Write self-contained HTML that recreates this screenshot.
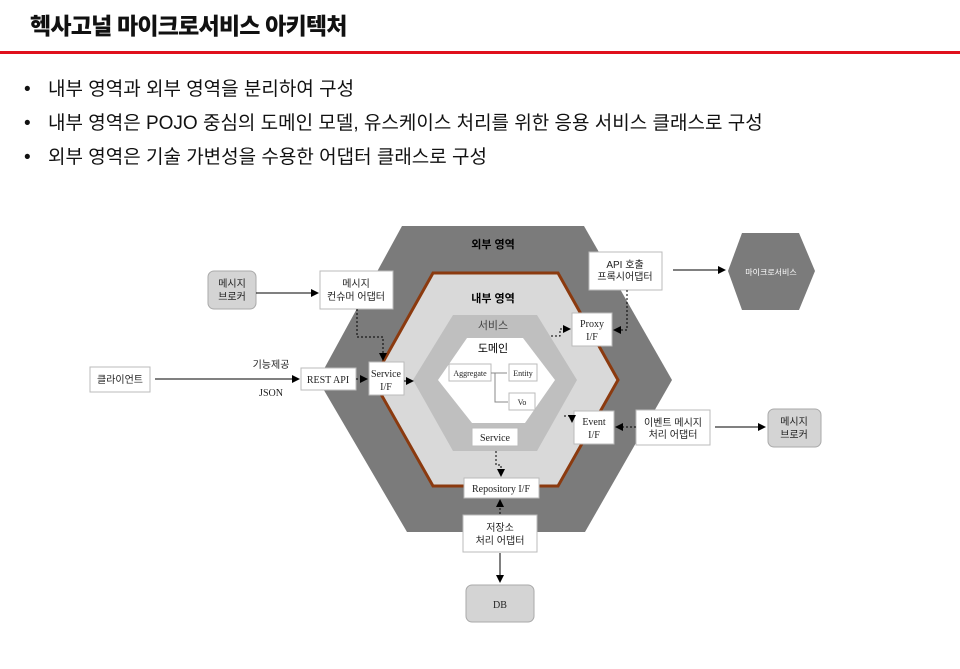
<!DOCTYPE html>
<html><head><meta charset="utf-8"><style>
body{margin:0;width:960px;height:669px;background:#fff;overflow:hidden;position:relative;font-family:"Liberation Sans","Noto Sans CJK KR",sans-serif}
.t{position:absolute;left:30px;top:7px;font-size:23px;font-weight:900;color:#111;letter-spacing:-0.8px}
.rl{position:absolute;left:0;top:51px;width:960px;height:3px;background:#e0101c}
.b{position:absolute;left:24px;font-size:19px;color:#111}
.b span{display:inline-block;width:24px}
</style></head><body>
<div class="t">헥사고널 마이크로서비스 아키텍처</div>
<div class="rl"></div>
<div class="b" style="top:74px"><span>•</span>내부 영역과 외부 영역을 분리하여 구성</div>
<div class="b" style="top:108px"><span>•</span>내부 영역은 POJO 중심의 도메인 모델, 유스케이스 처리를 위한 응용 서비스 클래스로 구성</div>
<div class="b" style="top:142px"><span>•</span>외부 영역은 기술 가변성을 수용한 어댑터 클래스로 구성</div>
<svg style="position:absolute;left:0;top:0" width="960" height="669" font-family="Liberation Serif,Noto Serif CJK SC,serif" font-size="10">
<defs><marker id="a" markerWidth="8" markerHeight="8" refX="7" refY="4" orient="auto"><path d="M0,0L8,4L0,8z" fill="#000"/></marker></defs>
<polygon points="402,226 584,226 672,380 585,532 407,532 318,380" fill="#7b7b7b"/>
<polygon points="433,273 558,273 618,380 558,486 433,486 373,380" fill="#d9d9d9" stroke="#8b3a0f" stroke-width="3"/>
<polygon points="453,315 537,315 577,380 537,451 453,451 413,380" fill="#bfbfbf"/>
<polygon points="467,338 523,338 555,380 525,423 472,423 438,380" fill="#fff"/>
<g font-family="Liberation Sans,Noto Sans CJK KR,sans-serif" text-anchor="middle">
<text x="493" y="248" fill="#000" font-weight="bold" font-size="11">외부 영역</text>
<text x="493" y="302" font-weight="bold" font-size="11">내부 영역</text>
<text x="493" y="329" fill="#444" font-size="11">서비스</text>
<text x="493" y="352" font-size="11">도메인</text>
</g>
<g fill="#fff" stroke="#bbb" stroke-width="1">
<rect x="320" y="271" width="73" height="38"/>
<rect x="589" y="252" width="73" height="38"/>
<rect x="369" y="362" width="35" height="33"/>
<rect x="301" y="368" width="55" height="22"/>
<rect x="572" y="313" width="40" height="33"/>
<rect x="574" y="411" width="40" height="33"/>
<rect x="636" y="410" width="74" height="35"/>
<rect x="449" y="364" width="42" height="17"/>
<rect x="509" y="364" width="28" height="17"/>
<rect x="509" y="393" width="26" height="17"/>
<rect x="472" y="428" width="46" height="18"/>
<rect x="464" y="478" width="75" height="20"/>
<rect x="463" y="515" width="74" height="37"/>
<rect x="90" y="367" width="60" height="25"/>
</g>
<polygon points="742,233 799,233 815,271 799,310 742,310 728,271" fill="#7b7b7b"/>
<g fill="#d4d4d4" stroke="#aaa">
<rect x="208" y="271" width="48" height="38" rx="6"/>
<rect x="768" y="409" width="53" height="38" rx="6"/>
<rect x="466" y="585" width="68" height="37" rx="6"/>
</g>
<g font-family="Liberation Sans,Noto Sans CJK KR,sans-serif" text-anchor="middle" font-size="10" fill="#222">
<text x="232" y="287">메시지</text><text x="232" y="300">브로커</text>
<text x="794" y="425">메시지</text><text x="794" y="438">브로커</text>
<text x="356" y="287">메시지</text><text x="356" y="300">컨슈머 어댑터</text>
<text x="625" y="268">API 호출</text><text x="625" y="280">프록시어댑터</text>
<text x="673" y="426">이벤트 메시지</text><text x="673" y="438">처리 어댑터</text>
<text x="500" y="531">저장소</text><text x="500" y="544">처리 어댑터</text>
<text x="120" y="383">클라이언트</text>
<text x="271" y="368">기능제공</text>
<text x="771" y="275" fill="#fff" font-size="8">마이크로서비스</text>
</g>
<g text-anchor="middle" fill="#222">
<text x="328" y="383">REST API</text>
<text x="386" y="377">Service</text><text x="386" y="390">I/F</text>
<text x="592" y="327">Proxy</text><text x="592" y="340">I/F</text>
<text x="594" y="425">Event</text><text x="594" y="438">I/F</text>
<text x="470" y="376" font-size="8">Aggregate</text>
<text x="523" y="376" font-size="8">Entity</text>
<text x="522" y="405" font-size="8">Vo</text>
<text x="495" y="441">Service</text>
<text x="501" y="492">Repository I/F</text>
<text x="500" y="608">DB</text>
<text x="271" y="396">JSON</text>
</g>
<g stroke="#000" fill="none">
<line x1="256" y1="293" x2="318" y2="293" marker-end="url(#a)"/>
<line x1="155" y1="379" x2="299" y2="379" marker-end="url(#a)"/>
<line x1="673" y1="270" x2="725" y2="270" marker-end="url(#a)"/>
<line x1="715" y1="427" x2="765" y2="427" marker-end="url(#a)"/>
<line x1="500" y1="553" x2="500" y2="582" marker-end="url(#a)"/>
<g stroke-dasharray="2,2">
<polyline points="357,309 357,337 383,337 383,360" marker-end="url(#a)"/>
<line x1="356" y1="379" x2="367" y2="379" marker-end="url(#a)"/>
<line x1="404" y1="381" x2="413" y2="381" marker-end="url(#a)"/>
<polyline points="551,336 560,336 560,329 570,329" marker-end="url(#a)"/>
<polyline points="627,290 627,330 614,330" marker-end="url(#a)"/>
<polyline points="564,416 572,416 572,422" marker-end="url(#a)"/>
<polyline points="636,427 616,427" marker-end="url(#a)"/>
<polyline points="496,451 496,465 501,465 501,476" marker-end="url(#a)"/>
<line x1="500" y1="514" x2="500" y2="500" marker-end="url(#a)"/>
</g>
</g>
<g stroke="#888" fill="none">
<line x1="491" y1="373" x2="507" y2="373"/>
<polyline points="495,373 495,402 508,402"/>
</g>
</svg>
</body></html>
